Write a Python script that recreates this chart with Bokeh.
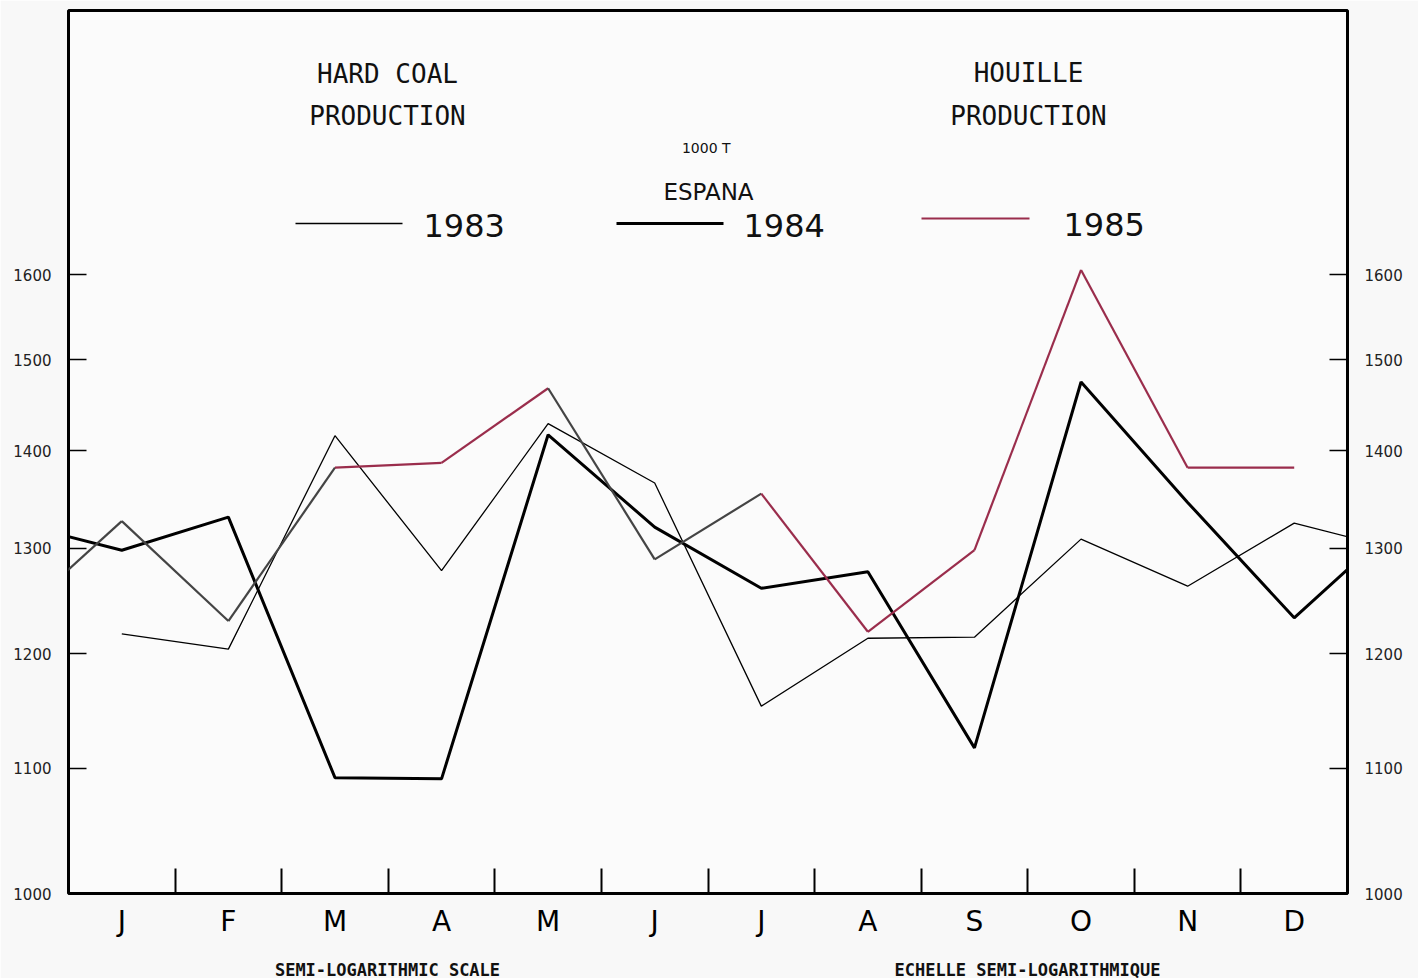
import math
from bokeh.plotting import figure
from bokeh.models import Range1d, FixedTicker, LogAxis, LinearAxis, Label
from bokeh.embed import file_html
from bokeh.resources import INLINE

# ---------------- data ----------------
months = ["J", "F", "M", "A", "M", "J", "J", "A", "S", "O", "N", "D"]
prod_1983 = [1218, 1204, 1416, 1278, 1429, 1366, 1153, 1214, 1215, 1309, 1263, 1325]
prod_1984 = [1298, 1331, 1092, 1091, 1417, 1321, 1261, 1277, 1117, 1475, 1346, 1233]
prod_1985 = [1327, 1230, 1382, 1387, 1468, 1289, 1355, 1220, 1298, 1606, 1382, 1382]
years = ["1983", "1984", "1985"]
y_ticks = [1000, 1100, 1200, 1300, 1400, 1500, 1600]
y_tick_labels = ["1000", "1100", "1200", "1300", "1400", "1500", "1600"]
title_left = ["HARD COAL", "PRODUCTION"]
title_right = ["HOUILLE", "PRODUCTION"]
unit_text = "1000  T"
country = "ESPANA"
scale_notes = ["SEMI-LOGARITHMIC SCALE", "ECHELLE SEMI-LOGARITHMIQUE"]

# ---------------- layout (page pixels, canvas at page origin) ----------------
FRAME_L, FRAME_R, FRAME_T, FRAME_B = 68, 1347, 10, 893
X_MIN, X_MAX = -0.5, 11.5
Y_MIN, Y_MAX = 1000, 1956

def dx(px):
    return X_MIN + (px - FRAME_L) / (FRAME_R - FRAME_L) * (X_MAX - X_MIN)

def dy(py):
    lo, hi = math.log10(Y_MIN), math.log10(Y_MAX)
    return 10 ** (lo + (FRAME_B - py) / (FRAME_B - FRAME_T) * (hi - lo))

RED = "#9a2d4c"
GRAY = "#444444"
FONT = "DejaVu Sans"
MONO = "DejaVu Sans Mono"

p = figure(frame_width=FRAME_R - FRAME_L, frame_height=FRAME_B - FRAME_T,
           min_border_left=FRAME_L, min_border_top=FRAME_T,
           min_border_right=1418 - FRAME_R, min_border_bottom=977 - FRAME_B,
           x_range=Range1d(X_MIN, X_MAX), y_range=Range1d(Y_MIN, Y_MAX),
           y_axis_type="log", output_backend="svg", toolbar_location=None)
p.grid.visible = False
p.background_fill_color = "#fbfbfb"
p.border_fill_color = "#f8f8f8"
p.outline_line_color = "black"
p.outline_line_width = 3

# x axis
xa = p.xaxis[0]
xa.ticker = FixedTicker(ticks=list(range(len(months))),
                        minor_ticks=[i + 0.5 for i in range(len(months) - 1)])
xa.major_label_overrides = {i: m for i, m in enumerate(months)}
xa.major_tick_line_color = None
xa.minor_tick_in = 25
xa.minor_tick_out = 0
xa.minor_tick_line_width = 2
xa.minor_tick_line_color = "black"
xa.axis_line_color = None
xa.major_label_text_font = FONT
xa.major_label_text_font_size = "28px"
xa.major_label_text_color = "black"
xa.major_label_standoff = 5

# second axis below carrying the scale notes
note_pos = [dx(387), dx(1027)]
na = LinearAxis(ticker=FixedTicker(ticks=note_pos),
                major_label_overrides={t: s for t, s in zip(note_pos, scale_notes)},
                major_tick_line_color=None, minor_tick_line_color=None,
                axis_line_color=None, major_label_standoff=13,
                major_label_text_font=MONO, major_label_text_font_size="17px",
                major_label_text_font_style="bold", major_label_text_color="#111111")
p.add_layout(na, "below")

# y axes
def style_y(ax):
    ax.ticker = FixedTicker(ticks=y_ticks)
    ax.major_label_overrides = {t: l for t, l in zip(y_ticks, y_tick_labels)}
    ax.major_tick_in = 18
    ax.major_tick_out = 0
    ax.major_tick_line_width = 1.5
    ax.major_tick_line_color = "black"
    ax.minor_tick_line_color = None
    ax.axis_line_color = None
    ax.major_label_text_font = FONT
    ax.major_label_text_font_size = "15px"
    ax.major_label_text_color = "#222222"
    ax.major_label_standoff = 17

style_y(p.yaxis[0])
right = LogAxis()
style_y(right)
p.add_layout(right, "right")

# ---------------- series ----------------
xs = list(range(len(months)))
# 1983: continues to January 1984
p.line(xs + [len(months)], prod_1983 + [prod_1984[0]], line_color="black", line_width=1.3)
# 1984: from December 1983 to January 1985
p.line([-1] + xs + [len(months)], [prod_1983[-1]] + prod_1984 + [prod_1985[0]],
       line_color="black", line_width=3)
# 1985: from December 1984, segments coloured as in the print
x85 = [-1] + xs
y85 = [prod_1984[-1]] + prod_1985
seg_cols = [GRAY, GRAY, GRAY, RED, RED, GRAY, GRAY, RED, RED, RED, RED, RED]
p.segment(x0=x85[:-1], y0=y85[:-1], x1=x85[1:], y1=y85[1:],
          line_color=seg_cols, line_width=2.2)

# ---------------- legend (manual) ----------------
leg = [(295, 402, 223, "black", 1.3, 423, 225),
       (616, 723, 223, "black", 3, 743, 225),
       (921, 1029, 218, RED, 2.2, 1063, 224)]
for (a, b, yy, c, w, tx, ty), yr in zip(leg, years):
    p.segment(x0=[dx(a)], y0=[dy(yy)], x1=[dx(b)], y1=[dy(yy)], line_color=c, line_width=w)
    p.add_layout(Label(x=dx(tx), y=dy(ty), text=yr, text_font=FONT, text_font_size="32px",
                       text_align="left", text_baseline="middle", text_color="#111111"))

def lab(px, py, text, size, font=MONO, style="normal"):
    p.add_layout(Label(x=dx(px), y=dy(py), text=text, text_font=font, text_font_size=size,
                       text_font_style=style, text_align="center", text_baseline="middle",
                       text_color="#111111"))

lab(387, 73, title_left[0], "26px")
lab(387, 115, title_left[1], "26px")
lab(1028, 72, title_right[0], "26px")
lab(1028, 115, title_right[1], "26px")
lab(708, 147, unit_text, "14px", FONT)
lab(708, 191, country, "23px", FONT)

open("out.html", "w").write(file_html(p, INLINE))
